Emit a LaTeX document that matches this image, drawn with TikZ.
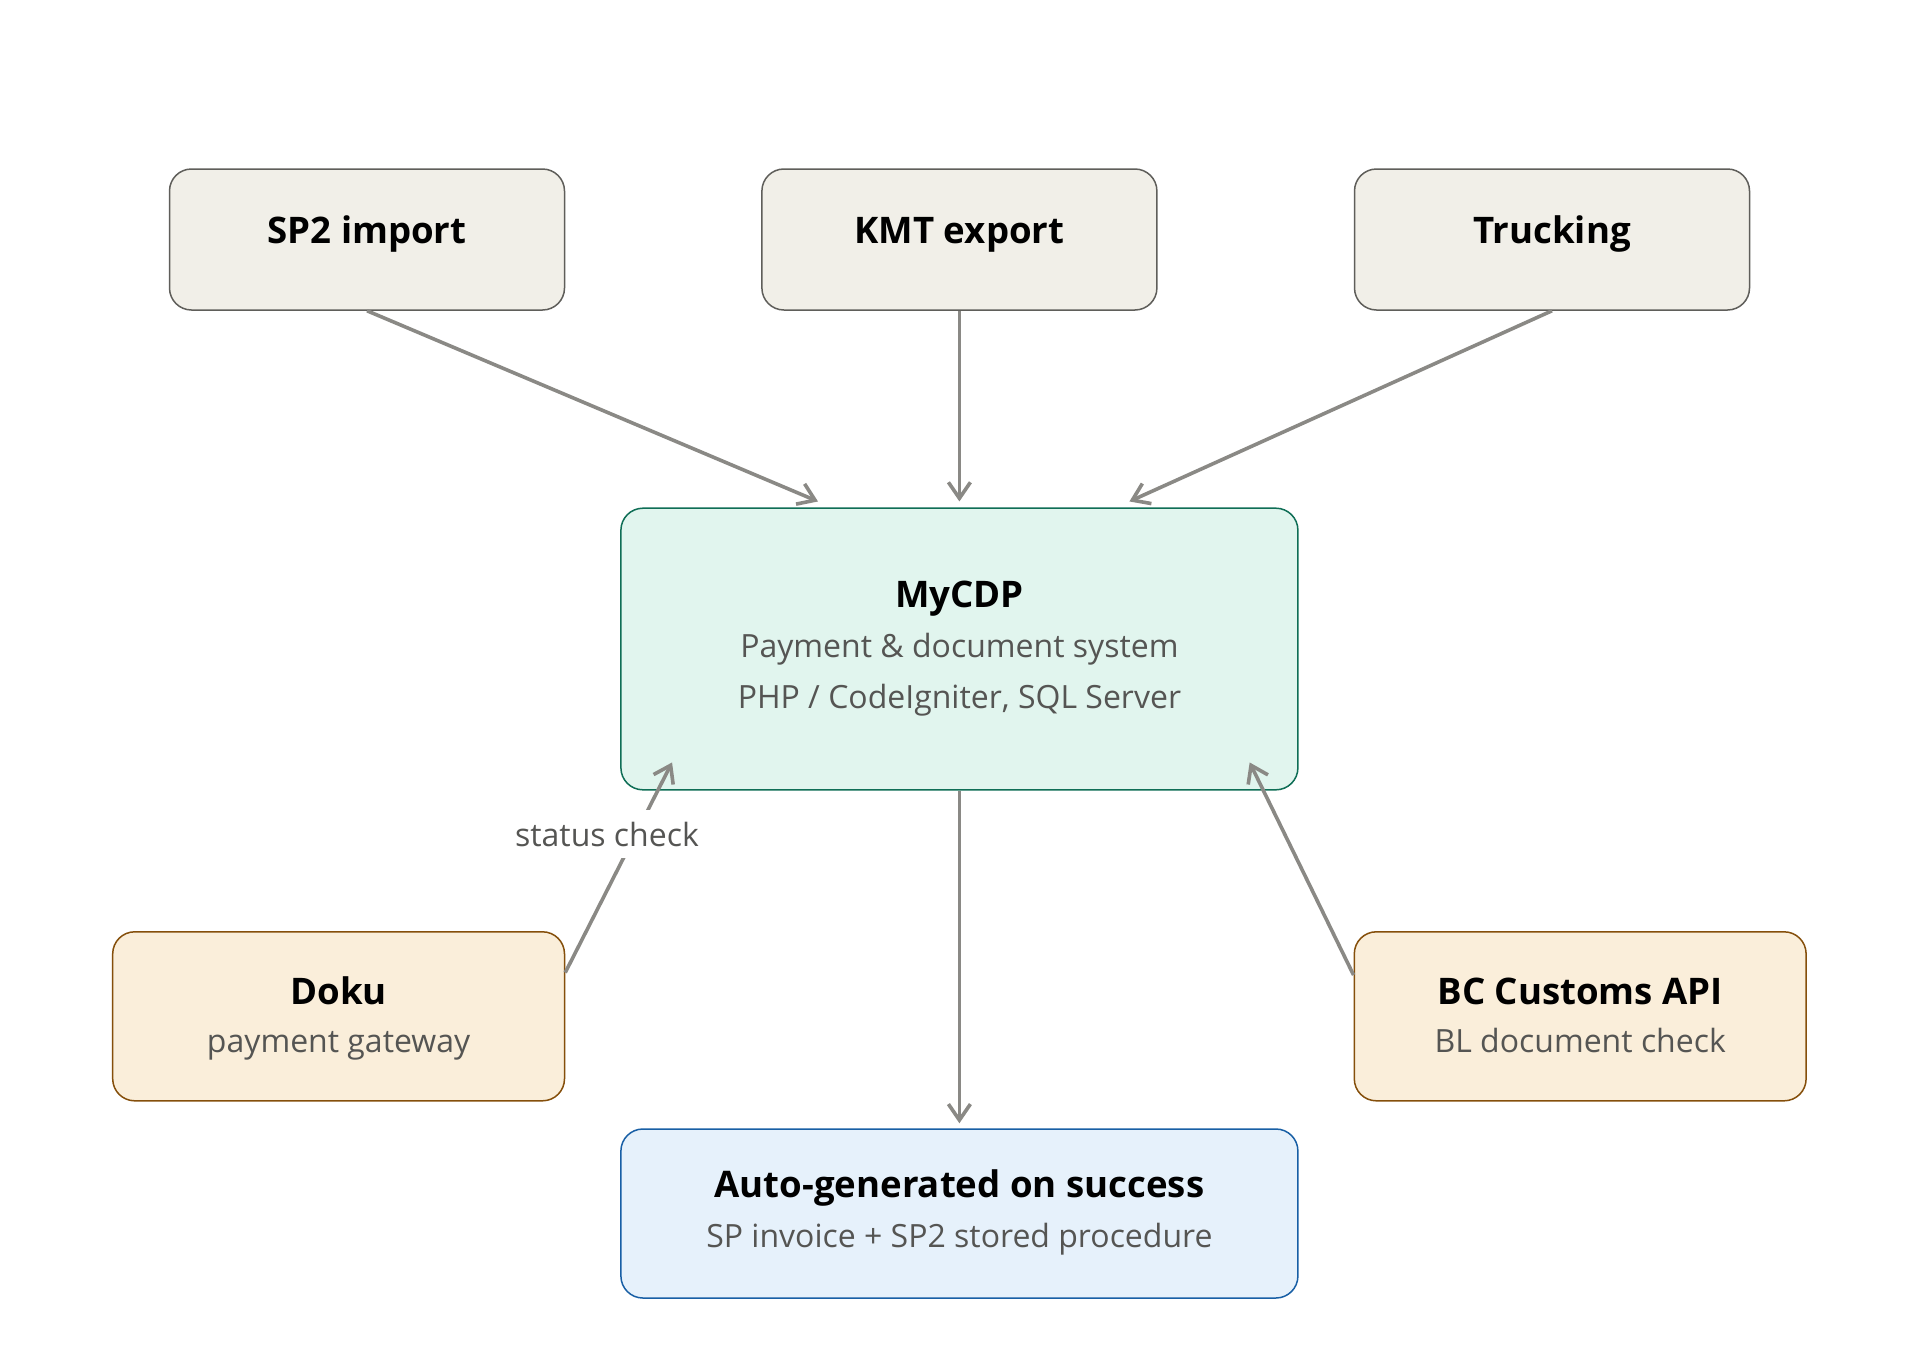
\documentclass[tikz,border=0pt]{standalone}
\usepackage{fontspec}
\setmainfont{Open Sans}
\usetikzlibrary{arrows.meta,calc}
\definecolor{gbg}{HTML}{F1EFE8}
\definecolor{gbd}{HTML}{5F5E5A}
\definecolor{tbg}{HTML}{E1F5EE}
\definecolor{tbd}{HTML}{0F6E56}
\definecolor{obg}{HTML}{FAEEDA}
\definecolor{obd}{HTML}{854F0B}
\definecolor{bbg}{HTML}{E6F1FB}
\definecolor{bbd}{HTML}{185FA5}
\definecolor{subc}{HTML}{555553}
\definecolor{arrc}{HTML}{8A8985}
\begin{document}
\begin{tikzpicture}[x=0.5pt,y=-0.5pt,
  box/.style={draw, rounded corners=11pt, line width=0.75pt, inner sep=0pt},
  graybox/.style={box, fill=gbg, draw=gbd, minimum width=197.5pt, minimum height=70.5pt},
  tealbox/.style={box, fill=tbg, draw=tbd, minimum width=338.5pt, minimum height=140.8pt},
  orangebox/.style={box, fill=obg, draw=obd, minimum width=225.9pt, minimum height=84.5pt},
  bluebox/.style={box, fill=bbg, draw=bbd, minimum width=338.5pt, minimum height=84.5pt},
  ttl/.style={anchor=base, inner sep=0pt, font=\fontsize{18.3pt}{22pt}\selectfont\bfseries, text=black},
  sub/.style={anchor=base, inner sep=0pt, font=\fontsize{16pt}{20pt}\selectfont, text=subc},
  conn/.style={draw=arrc, line width=1.8pt, -{Straight Barb[length=8pt,width=11pt,line width=1.8pt]}}
]
\useasboundingbox[fill=white] (0,0) rectangle (1920,1355);

% boxes
\node[graybox] (sp2) at (367,239.5) {};
\node[graybox] (kmt) at (959.4,239.5) {};
\node[graybox] (truck) at (1552,239.5) {};
\node[tealbox] (mycdp) at (959.4,649) {};
\node[orangebox] (doku) at (338.6,1016.3) {};
\node[orangebox] (bc) at (1580.2,1016.3) {};
\node[bluebox] (auto) at (959.4,1213.5) {};

% texts
\node[ttl] (sp2t) at (367,243) {SP2 import};
\node[ttl] (kmtt) at (959.4,243) {KMT export};
\node[ttl] (truckt) at (1552,243) {Trucking};
\node[ttl] (mycdpt) at (959.4,607) {MyCDP};
\node[sub] (mycdps1) at (959.4,657) {Payment \& document system};
\node[sub] (mycdps2) at (959.4,708) {PHP / CodeIgniter, SQL Server};
\node[ttl] (dokut) at (338.6,1004) {Doku};
\node[sub] (dokus) at (338.6,1052) {payment gateway};
\node[ttl] (bct) at (1580.2,1004) {BC Customs API};
\node[sub] (bcs) at (1580.2,1052) {BL document check};
\node[ttl] (autot) at (959.4,1197.7) {Auto-generated on success};
\node[sub] (autos) at (959.4,1247.7) {SP invoice + SP2 stored procedure};

% connector end points
\coordinate (in1) at ($(mycdp.north)+(-141.4,-6)$);
\coordinate (in2) at ($(mycdp.north)+(0,-6)$);
\coordinate (in3) at ($(mycdp.north)+(170,-6)$);
\coordinate (in4) at ($(mycdp.south west)+(51.9,-28.1)$);
\coordinate (in5) at ($(mycdp.south east)+(-49,-28.1)$);
\coordinate (out1) at ($(doku.north east)+(0,41.5)$);
\coordinate (out2) at ($(bc.north west)+(0,44)$);
\coordinate (in6) at ($(auto.north)+(0,-5)$);

\draw[conn] (sp2.south) -- (in1);
\draw[conn] (kmt.south) -- (in2);
\draw[conn] (truck.south) -- (in3);
\draw[conn] (mycdp.south) -- (in6);
\draw[conn] (out1) -- (in4);
\draw[conn] (out2) -- (in5);

\node[anchor=base, fill=white, inner xsep=2pt, inner ysep=6pt, font=\fontsize{16pt}{20pt}\selectfont, text=subc] (lbl) at (607,846) {status check};
\end{tikzpicture}
\end{document}
